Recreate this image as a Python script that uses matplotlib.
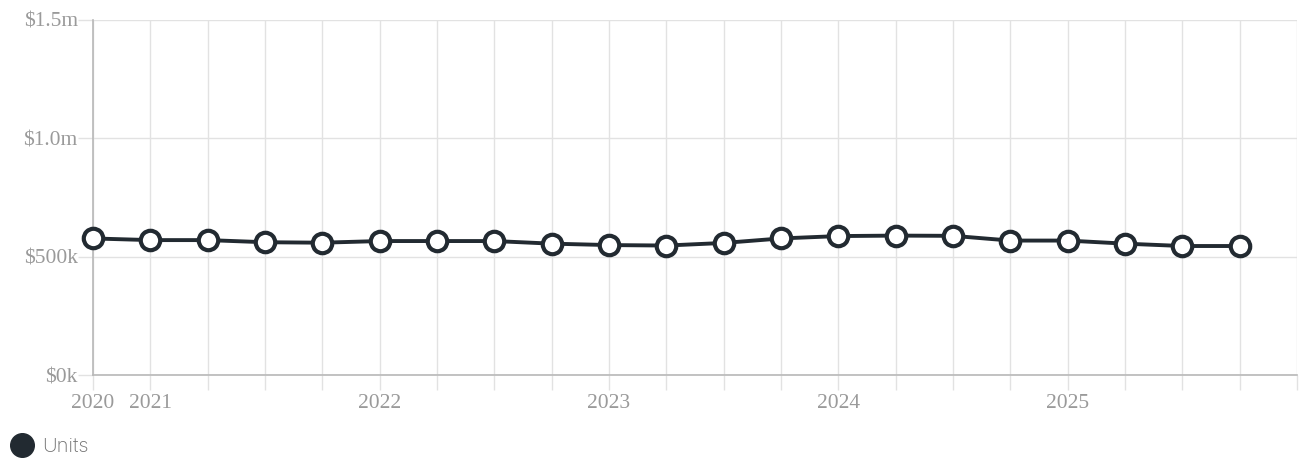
import matplotlib.pyplot as plt
from matplotlib.lines import Line2D

# quarterly values, 2020 Q4 .. 2025 Q4
quarters = list(range(21))
units = [577000, 570000, 570000, 561000, 559000, 566000, 566000,
         566000, 555000, 549000, 547000, 558000, 577000, 587000,
         589000, 588000, 568000, 568000, 555000, 545000, 545000]
year_labels = {0: '2020', 1: '2021', 5: '2022', 9: '2023', 13: '2024', 17: '2025'}
y_ticks = [0, 500000, 1000000, 1500000]
y_labels = ['$0k', '$500k', '$1.0m', '$1.5m']

dark = '#222a31'
grid_c = '#e2e2e2'
text_c = '#9a9a9a'

fig = plt.figure(figsize=(13.09, 4.63), dpi=100)
ax = fig.add_axes([93 / 1309, 1 - 375 / 463, (1297 - 93) / 1309, 355 / 463])

ax.plot(quarters, units, color=dark, lw=2.8, marker='o', ms=14,
        mfc='white', mec=dark, mew=3.0, zorder=3, clip_on=False)

ax.set_xlim(0, 21)
ax.set_ylim(0, 1500000)

ax.set_xticks(range(22))
ax.set_xticklabels([year_labels.get(i, '') for i in range(22)])
ax.set_yticks(y_ticks)
ax.set_yticklabels(y_labels)

ax.grid(True, color=grid_c, lw=1)
ax.set_axisbelow(True)
for s in ['top', 'right']:
    ax.spines[s].set_visible(False)
for s in ['left', 'bottom']:
    ax.spines[s].set_color('#b8b8b8')
    ax.spines[s].set_linewidth(1.2)

ax.tick_params(axis='x', length=11, color=grid_c, width=1, pad=3,
               labelcolor=text_c, labelsize=15.5)
ax.tick_params(axis='y', length=11, color=grid_c, width=1, pad=0,
               labelcolor=text_c, labelsize=15.5)
for lab in ax.get_xticklabels() + ax.get_yticklabels():
    lab.set_fontfamily('Liberation Serif')

handle = Line2D([], [], color=dark, marker='o', ls='none', ms=17)
fig.legend([handle], ['Units'], loc='center left',
           bbox_to_anchor=(0.001, 1 - 447 / 463), frameon=False,
           handletextpad=0.35, borderaxespad=0, handlelength=1.3,
           prop={'family': 'Inter', 'size': 14.5, 'weight': 'light'},
           labelcolor='#707070')

fig.savefig('out.png', dpi=100)
